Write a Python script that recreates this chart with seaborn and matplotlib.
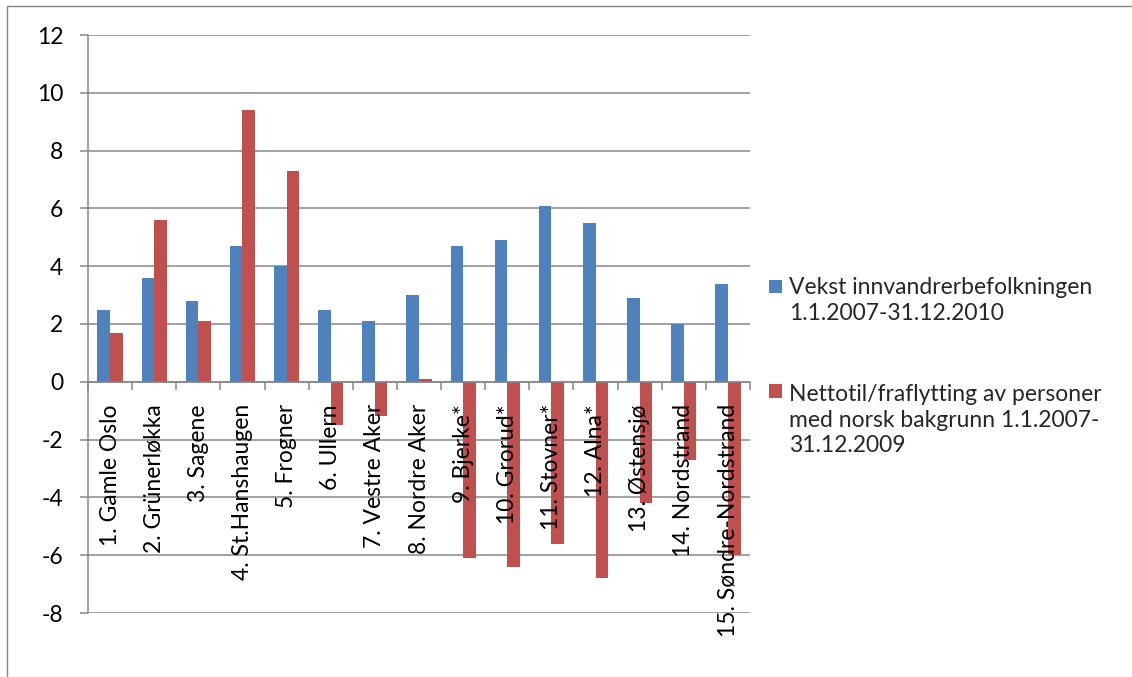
import matplotlib
matplotlib.use('Agg')
import matplotlib.pyplot as plt
import seaborn as sns
import pandas as pd
import numpy as np
from matplotlib.patches import Rectangle, Patch
from matplotlib.legend_handler import HandlerPatch

categories = ["1. Gamle Oslo", "2. Grünerløkka", "3. Sagene", "4. St.Hanshaugen",
              "5. Frogner", "6. Ullern", "7. Vestre Aker", "8. Nordre Aker",
              "9. Bjerke*", "10. Grorud*", "11. Stovner*", "12. Alna*",
              "13. Østensjø", "14. Nordstrand", "15. Søndre-Nordstrand"]
series_names = ["Vekst innvandrerbefolkningen\n1.1.2007-31.12.2010",
                "Nettotil/fraflytting av personer\nmed norsk bakgrunn 1.1.2007-\n31.12.2009"]
vekst = [2.5, 3.6, 2.8, 4.7, 4.0, 2.5, 2.1, 3.0, 4.7, 4.9, 6.1, 5.5, 2.9, 2.0, 3.4]
netto = [1.7, 5.6, 2.1, 9.4, 7.3, -1.5, -1.2, 0.1, -6.1, -6.4, -5.6, -6.8, -4.2, -2.7, -6.0]
y_ticks = list(range(-8, 13, 2))

BLUE = "#4F81BD"
RED = "#C0504D"
GRAY = "#878787"

sns.set_theme(style="white")
plt.rcParams['font.family'] = ['Lato', 'DejaVu Sans']
FS = 16.5
LS = 1.28

df = pd.DataFrame({
    "Bydel": categories * 2,
    "Serie": [series_names[0]] * len(categories) + [series_names[1]] * len(categories),
    "Verdi": vekst + netto,
})

W, H = 1132, 677
fig = plt.figure(figsize=(W / 100, H / 100), dpi=100)
fig.patch.set_facecolor("white")
ax = fig.add_axes([88 / W, 1 - 613 / H, (750 - 88) / W, (613 - 35) / H])

sns.barplot(data=df, x="Bydel", y="Verdi", hue="Serie", palette=[BLUE, RED],
            width=0.57, gap=0, saturation=1, errorbar=None, legend=False,
            linewidth=0, ax=ax)

ax.set_xlim(-0.5, len(categories) - 0.5)
ax.set_ylim(-8, 12)
ax.set_yticks(y_ticks)
ax.set_yticklabels([str(t) for t in y_ticks])
ax.set_xlabel("")
ax.set_ylabel("")

# grid below bars, category labels above bars
ax.yaxis.grid(True, color=GRAY, linewidth=1.1)
ax.yaxis.set_zorder(0.5)
ax.xaxis.set_zorder(3)

for s in ["top", "right"]:
    ax.spines[s].set_visible(False)
ax.spines["left"].set_color(GRAY)
ax.spines["left"].set_linewidth(1.1)
ax.spines["bottom"].set_position(("data", 0))
ax.spines["bottom"].set_color(GRAY)
ax.spines["bottom"].set_linewidth(1.1)

ax.tick_params(axis="y", length=5.8, width=1.1, color=GRAY, pad=12,
               labelsize=FS, labelcolor="black", direction="out", left=True)
ax.set_xticks(range(len(categories)))
ax.set_xticklabels(categories, rotation=90, ha="center", va="top")
ax.tick_params(axis="x", which="major", length=0, pad=16, labelsize=FS,
               labelcolor="black")
ax.set_xticks(np.arange(-0.5, len(categories), 1), minor=True)
ax.tick_params(axis="x", which="minor", length=6, width=1.1, color=GRAY,
               direction="out", bottom=True)


class TopPatch(HandlerPatch):
    def __init__(self, nlines, **kw):
        super().__init__(**kw)
        self.nlines = nlines

    def create_artists(self, legend, orig_handle, xdescent, ydescent, width,
                       height, fontsize, trans):
        shift = (self.nlines - 1) / 2 * fontsize * LS
        p = Rectangle((-xdescent, -ydescent + shift), width, height,
                      facecolor=orig_handle.get_facecolor(), edgecolor="none",
                      transform=trans)
        return [p]


h1 = Patch(facecolor=BLUE)
h2 = Patch(facecolor=RED)
leg = fig.legend([h1, h2], series_names, loc="upper left",
                 bbox_to_anchor=(758 / W, 1 - 266 / H), frameon=False,
                 fontsize=FS, handlelength=0.55, handleheight=0.55,
                 handletextpad=0.3, labelspacing=2.6, borderpad=0,
                 handler_map={h1: TopPatch(2), h2: TopPatch(3)})
for t in leg.get_texts():
    t.set_linespacing(LS)

# outer chart border
fig.patches.append(Rectangle((7 / W, -0.1), 1.2, 1 - 6 / H + 0.1,
                             transform=fig.transFigure, fill=False,
                             edgecolor=GRAY, linewidth=1))

fig.savefig("out.png", dpi=100)
